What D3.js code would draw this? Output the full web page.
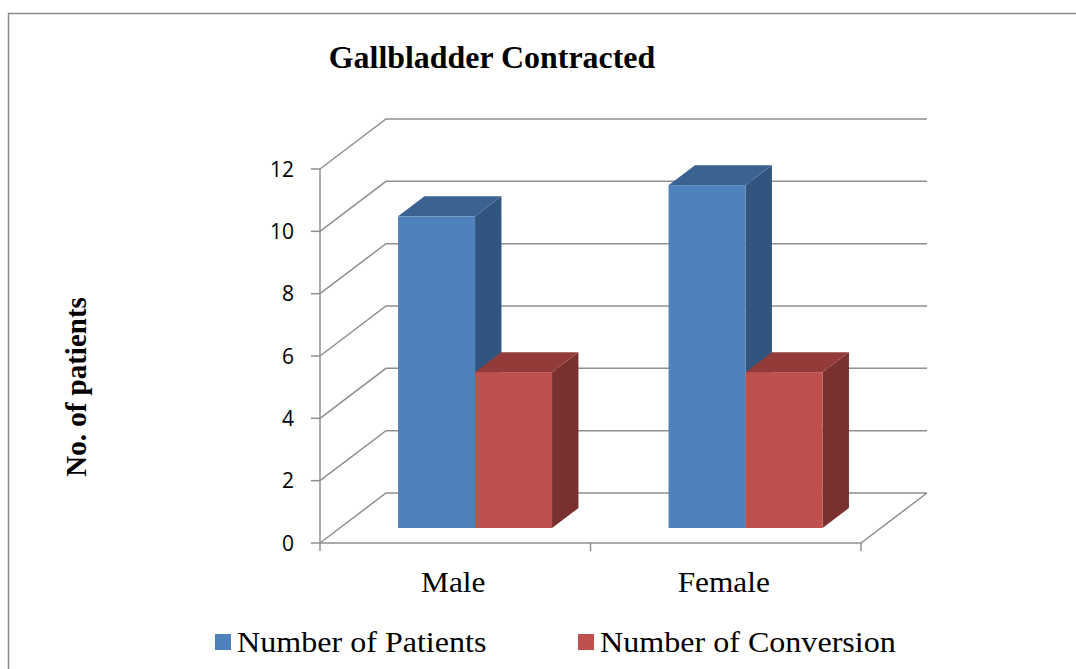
<!DOCTYPE html>
<html>
<head>
<meta charset="utf-8">
<script src="https://cdn.jsdelivr.net/npm/d3@7"></script>
<style>
  body { margin: 0; background: #fff; }
  svg { display: block; }
  .serif { font-family: "Liberation Serif", "Times New Roman", serif; }
</style>
</head>
<body>
<svg width="1076" height="669"></svg>
<script>
var categories = ["Male", "Female"];
var series = ["Number of Patients", "Number of Conversion"];
var patients = [10, 11];
var conversion = [5, 5];
var yTicks = [0, 2, 4, 6, 8, 10, 12];

var values = [patients, conversion];
var frontC = ["#4F81BD", "#C0504D"],
    topC = ["#3B6392", "#933B39"],
    sideC = ["#32557F", "#7A302E"];

var svg = d3.select("svg"),
    left = 320, right = 861, bottom = 543, topY = 169,
    depthX = 66, depthY = -50,
    grid = "#8f8f8f";

// page border
svg.append("rect")
    .attr("x", 8.5).attr("y", 13.5)
    .attr("width", 1100).attr("height", 700)
    .attr("fill", "none").attr("stroke", "#8a8a8a").attr("stroke-width", 1.5);

var y = d3.scaleLinear().domain([0, 12]).range([bottom, topY]);
var x0 = d3.scaleBand().domain(categories).range([left, right]);
var barW = 77;
var x1 = d3.scaleBand().domain(series).range([-barW, barW]);

function off(d) { return [depthX * d, depthY * d]; }

var g = svg.append("g");

// gridlines: left wall diagonals + back wall horizontals
g.selectAll("path.grid")
    .data(yTicks)
    .enter().append("path")
    .attr("class", "grid")
    .attr("fill", "none")
    .attr("stroke", grid)
    .attr("stroke-width", 1.5)
    .attr("d", function (v) {
        var yy = y(v);
        return "M" + left + "," + yy + "L" + (left + depthX) + "," + (yy + depthY) +
            "L" + (right + depthX) + "," + (yy + depthY);
    });

// floor right edge and front edge
g.append("path")
    .attr("fill", "none").attr("stroke", grid).attr("stroke-width", 1.5)
    .attr("d", "M" + left + "," + bottom + "L" + right + "," + bottom +
        "L" + (right + depthX) + "," + (bottom + depthY));

// left axis line
g.append("line")
    .attr("x1", left).attr("x2", left).attr("y1", y(0)).attr("y2", y(12))
    .attr("stroke", grid).attr("stroke-width", 1.5);

// y ticks
g.selectAll("line.ytick")
    .data(yTicks)
    .enter().append("line")
    .attr("class", "ytick")
    .attr("x1", left - 9).attr("x2", left)
    .attr("y1", function (v) { return y(v); })
    .attr("y2", function (v) { return y(v); })
    .attr("stroke", grid).attr("stroke-width", 1.5);

g.selectAll("text.ylab")
    .data(yTicks)
    .enter().append("text")
    .attr("class", "ylab")
    .attr("x", 294)
    .attr("y", function (v) { return y(v); })
    .attr("dy", "0.36em")
    .attr("text-anchor", "end")
    .style("font-family", "'Open Sans', 'Liberation Sans', sans-serif")
    .style("font-size", "21px")
    .attr("fill", "#000")
    .text(function (v) { return v; });

// x ticks
var xt = [left].concat(categories.map(function (c) { return x0(c) + x0.bandwidth(); }));
g.selectAll("line.xtick")
    .data(xt)
    .enter().append("line")
    .attr("class", "xtick")
    .attr("x1", function (d) { return d; }).attr("x2", function (d) { return d; })
    .attr("y1", bottom).attr("y2", bottom + 8)
    .attr("stroke", grid).attr("stroke-width", 1.5);

g.selectAll("text.xlab")
    .data(categories)
    .enter().append("text")
    .attr("class", "xlab serif")
    .attr("transform", function (c) {
        return "translate(" + (x0(c) + x0.bandwidth() / 2 - 2) + ",592) scale(1.08,1)";
    })
    .attr("text-anchor", "middle")
    .style("font-size", "29px")
    .attr("fill", "#000")
    .text(function (c) { return c; });

// 3D bars
var d0 = 0.3, d1 = 0.7;
var bars = [];
categories.forEach(function (c, ci) {
    series.forEach(function (s, si) {
        bars.push({ cat: c, s: si, v: values[si][ci] });
    });
});

var bar = g.selectAll("g.bar")
    .data(bars)
    .enter().append("g")
    .attr("class", "bar");

function pts(a) { return a.map(function (p) { return p.join(","); }).join(" "); }

bar.each(function (d) {
    var sel = d3.select(this);
    var cx = x0(d.cat) + x0.bandwidth() / 2;
    var o0 = off(d0), o1 = off(d1);
    var xl = cx + x1(series[d.s]) + o0[0],
        xr = xl + x1.bandwidth(),
        yb = y(0) + o0[1],
        yt = y(d.v) + o0[1],
        dx = o1[0] - o0[0], dy = o1[1] - o0[1];
    // side
    sel.append("polygon")
        .attr("points", pts([[xr, yb], [xr, yt], [xr + dx, yt + dy], [xr + dx, yb + dy]]))
        .attr("fill", sideC[d.s]);
    // top
    sel.append("polygon")
        .attr("points", pts([[xl, yt], [xl + dx, yt + dy], [xr + dx, yt + dy], [xr, yt]]))
        .attr("fill", topC[d.s]);
    // front
    sel.append("rect")
        .attr("x", xl).attr("y", yt)
        .attr("width", xr - xl).attr("height", yb - yt)
        .attr("fill", frontC[d.s]);
});

// title
svg.append("text")
    .attr("class", "serif")
    .attr("transform", "translate(492,68) scale(1.03,1)")
    .attr("text-anchor", "middle")
    .style("font-size", "31px")
    .style("font-weight", "bold")
    .text("Gallbladder Contracted");

// y axis title
svg.append("text")
    .attr("class", "serif")
    .attr("transform", "translate(86,387) rotate(-90)")
    .attr("text-anchor", "middle")
    .style("font-size", "29px")
    .style("font-weight", "bold")
    .text("No. of patients");

// legend
var legX = [215, 578];
var leg = svg.selectAll("g.leg")
    .data(series)
    .enter().append("g")
    .attr("class", "leg")
    .attr("transform", function (d, i) { return "translate(" + legX[i] + ",634)"; });

leg.append("rect")
    .attr("width", 16).attr("height", 16)
    .attr("fill", function (d, i) { return frontC[i]; });

leg.append("text")
    .attr("class", "serif")
    .attr("transform", "translate(22,18) scale(1.07,1)")
    .style("font-size", "30px")
    .text(function (d) { return d; });
</script>
</body>
</html>
